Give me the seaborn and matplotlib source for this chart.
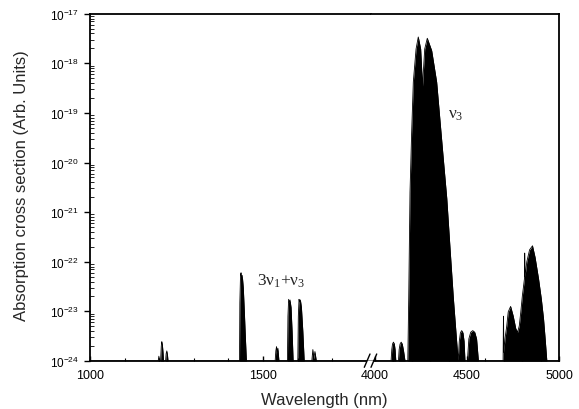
import matplotlib
matplotlib.use('Agg')
import matplotlib.pyplot as plt
import numpy as np
import pandas as pd
import seaborn as sns
from matplotlib.lines import Line2D
from matplotlib.ticker import FixedLocator, LogLocator, NullFormatter

# bottom of the log axis, used as the baseline of every band
floor = 1e-24

# short-wave part: 1200 nm lines, 3v1+v3 group around 1430-1650 nm (envelope)
short_wl = [1000,
            1197, 1199, 1201,
            1204, 1206, 1207.5, 1209, 1211, 1212.5,
            1218.5, 1220, 1222, 1224, 1225.5,
            1432, 1433, 1435, 1436.5, 1438, 1440, 1443, 1446, 1449, 1452,
            1535, 1537, 1539, 1541, 1543, 1546,
            1570.5, 1572, 1574, 1576, 1578, 1581, 1584, 1587,
            1600.5, 1602, 1604, 1606, 1608, 1611, 1615, 1619,
            1641, 1644, 1646.5, 1650, 1654,
            1812]
short_sigma = [1e-24,
               1e-24, 1.25e-24, 1e-24,
               1e-24, 2.0e-24, 2.45e-24, 2.2e-24, 1.5e-24, 1e-24,
               1e-24, 1.4e-24, 1.6e-24, 1.3e-24, 1e-24,
               1e-24, 1.5e-23, 5.5e-23, 6.0e-23, 4.6e-23, 5.3e-23, 3.0e-23, 1.0e-23, 3e-24, 1e-24,
               1e-24, 1.6e-24, 1.95e-24, 1.5e-24, 1.8e-24, 1e-24,
               1e-24, 8e-24, 1.75e-23, 1.5e-23, 1.7e-23, 1.2e-23, 4e-24, 1e-24,
               1e-24, 8e-24, 1.75e-23, 1.55e-23, 1.7e-23, 1.2e-23, 4e-24, 1e-24,
               1e-24, 1.7e-24, 1.1e-24, 1.55e-24, 1e-24,
               1e-24]

# long-wave part: v3 fundamental around 4.26 um plus hot/isotope bands
long_wl = [3978,
           4087, 4091, 4095, 4100, 4105, 4109, 4113,
           4127, 4131, 4136, 4142, 4148, 4155, 4163,
           4178, 4183, 4190, 4199, 4208, 4223, 4235, 4248, 4258, 4270, 4284, 4308,
           4335, 4371, 4390, 4408, 4426, 4444, 4452,
           4458, 4464, 4471, 4478, 4484, 4489,
           4502, 4510, 4520, 4531, 4542, 4552, 4562,
           4696, 4698, 4700, 4706, 4716, 4724, 4737, 4751, 4765, 4775,
           4784, 4792, 4801, 4806, 4812, 4813.5, 4815, 4825, 4840, 4856,
           4870, 4889, 4904, 4916, 4925, 4934,
           5000]
long_sigma = [1e-24,
              1e-24, 1.7e-24, 2.2e-24, 2.4e-24, 2.2e-24, 1.7e-24, 1e-24,
              1e-24, 1.7e-24, 2.2e-24, 2.4e-24, 2.2e-24, 1.6e-24, 1e-24,
              1e-24, 1.8e-23, 2.5e-21, 4.1e-20, 4.2e-19, 1.95e-18, 3.4e-18, 1.95e-18, 3.5e-19, 1.95e-18, 3.2e-18, 1.8e-18,
              4.2e-19, 1.2e-20, 1.9e-21, 1.8e-22, 1.8e-23, 2.4e-24, 1e-24,
              2.5e-24, 3.7e-24, 4.1e-24, 3.7e-24, 2.5e-24, 1e-24,
              1e-24, 2.8e-24, 3.8e-24, 4.1e-24, 3.8e-24, 2.8e-24, 1e-24,
              1e-24, 8e-24, 1.5e-24, 2.75e-24, 5.1e-24, 9.8e-24, 1.26e-23, 8.1e-24, 4.5e-24, 3.8e-24,
              5.1e-24, 9.5e-24, 2.1e-23, 2.95e-23, 4.5e-23, 1.5e-22, 5e-23, 1.0e-22, 1.74e-22, 2.1e-22,
              1.23e-22, 4.5e-23, 1.78e-23, 7.1e-24, 2.75e-24, 1e-24,
              1e-24]

y_decades = [1e-24, 1e-23, 1e-22, 1e-21, 1e-20, 1e-19, 1e-18, 1e-17]

sns.set_theme(style='ticks')
plt.rcParams['font.family'] = ['Liberation Sans', 'DejaVu Sans']
plt.rcParams['axes.edgecolor'] = 'black'
plt.rcParams['xtick.color'] = 'black'
plt.rcParams['ytick.color'] = 'black'
# serif upright greek for the band labels
plt.rcParams['mathtext.rm'] = 'Liberation Serif'
plt.rcParams['mathtext.it'] = 'Liberation Serif'

W, H = 579, 410
fig = plt.figure(figsize=(W / 100, H / 100), dpi=100)
bottom = 1 - 362 / H
height = (362 - 14.7) / H
ax1 = fig.add_axes([90 / W, bottom, 281 / W, height])
ax2 = fig.add_axes([371 / W, bottom, 188 / W, height], sharey=ax1)

for ax, wl, sig in [(ax1, short_wl, short_sigma), (ax2, long_wl, long_sigma)]:
    ax.set_yscale('log')
    ax.fill_between(wl, floor, sig, color='black', lw=0)
    df = pd.DataFrame({'wl': wl, 'sigma': sig})
    sns.lineplot(data=df, x='wl', y='sigma', color='black', lw=0.6,
                 estimator=None, sort=False, ax=ax)
    ax.set_xlabel('')
    ax.set_ylabel('')
    for s in ax.spines.values():
        s.set_linewidth(1.3)

ax1.set_xlim(1000, 1812)
ax2.set_xlim(3978, 5000)
ax1.set_ylim(1e-24, 1e-17)

ax1.spines['right'].set_visible(False)
ax2.spines['left'].set_visible(False)
# leave a gap in the bottom line for the axis break
ax1.spines['bottom'].set_bounds(1000, 1797)
ax2.spines['bottom'].set_bounds(3997, 5000)

ax1.xaxis.set_major_locator(FixedLocator([1000, 1500]))
ax1.xaxis.set_minor_locator(FixedLocator([1100, 1200, 1300, 1400, 1600, 1700]))
ax2.xaxis.set_major_locator(FixedLocator([4000, 4500, 5000]))
ax2.xaxis.set_minor_locator(FixedLocator([4100, 4200, 4300, 4400, 4600, 4700, 4800, 4900]))
ax1.yaxis.set_major_locator(FixedLocator(y_decades))
ax1.yaxis.set_minor_locator(LogLocator(base=10, subs=np.arange(2, 10), numticks=12))
ax1.yaxis.set_minor_formatter(NullFormatter())

for ax in (ax1, ax2):
    ax.tick_params(axis='x', which='major', direction='in', length=3.6, width=1,
                   labelsize=9, pad=6, top=False)
    ax.tick_params(axis='x', which='minor', direction='in', length=2.2, width=0.8, top=False)
ax1.tick_params(axis='y', which='major', direction='out', length=4, width=1,
                labelsize=8.5, pad=4, right=False)
ax1.tick_params(axis='y', which='minor', direction='in', length=3, width=0.6, right=False)
ax2.tick_params(axis='y', which='both', left=False, right=False, labelleft=False)

# break marks on the x axis
for x0 in (364.3, 371):
    fig.add_artist(Line2D([x0 / W, (x0 + 5.7) / W], [1 - 368.3 / H, 1 - 355 / H],
                          color='black', lw=1))

# band labels
ax1.text(1483, 4.3e-23, r'$3\mathrm{\nu}_1{+}\mathrm{\nu}_3$', math_fontfamily='custom',
         fontsize=12.5, ha='left', va='center')
ax2.text(4439, 9.5e-20, r'$\mathrm{\nu}_3$', math_fontfamily='custom',
         fontsize=12.5, ha='center', va='center')

fig.text(324.5 / W, 1 - 401 / H, 'Wavelength (nm)', ha='center', va='center', fontsize=12)
fig.text(21.5 / W, 1 - 186 / H, 'Absorption cross section (Arb. Units)', rotation=90,
         ha='center', va='center', fontsize=12)

fig.savefig('out.png', dpi=100)
